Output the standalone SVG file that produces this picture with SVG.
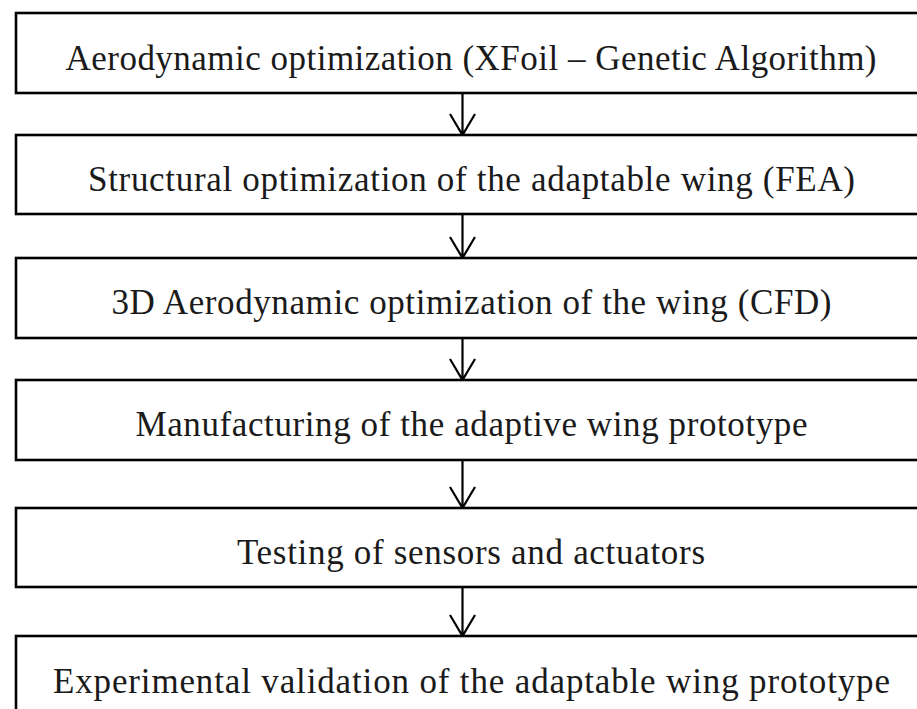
<svg xmlns="http://www.w3.org/2000/svg" width="917" height="709" viewBox="0 0 917 709">
<style>
.box{fill:#fff;stroke:#000;stroke-width:2.6}
.t{font-family:"Liberation Serif","DejaVu Serif",serif;font-size:35px;fill:#1a1a1a;text-anchor:middle}
.c{stroke:#000;stroke-width:2.2;fill:none}
</style>
<rect width="917" height="709" fill="#fff"/>
<g id="connectors">
<path class="c" d="M462.5 93V135M450 114L462.5 135L475 114"/>
<path class="c" d="M462.5 214V258M450 237L462.5 258L475 237"/>
<path class="c" d="M462.5 338V380M450 359L462.5 380L475 359"/>
<path class="c" d="M462.5 460V508M450 487L462.5 508L475 487"/>
<path class="c" d="M462.5 587V636M450 615L462.5 636L475 615"/>
</g>
<g id="n1"><rect class="box" x="16" y="13" width="920" height="80"/><text class="t" x="471" y="70" textLength="811" lengthAdjust="spacing">Aerodynamic optimization (XFoil – Genetic Algorithm)</text></g>
<g id="n2"><rect class="box" x="16" y="135" width="920" height="79"/><text class="t" x="471.5" y="191" textLength="767" lengthAdjust="spacing">Structural optimization of the adaptable wing (FEA)</text></g>
<g id="n3"><rect class="box" x="16" y="258" width="920" height="80"/><text class="t" x="471.5" y="314" textLength="720" lengthAdjust="spacing">3D Aerodynamic optimization of the wing (CFD)</text></g>
<g id="n4"><rect class="box" x="16" y="380" width="920" height="80"/><text class="t" x="471.5" y="436" textLength="672" lengthAdjust="spacing">Manufacturing of the adaptive wing prototype</text></g>
<g id="n5"><rect class="box" x="16" y="508" width="920" height="79"/><text class="t" x="471" y="564" textLength="468" lengthAdjust="spacing">Testing of sensors and actuators</text></g>
<g id="n6"><rect class="box" x="16" y="636" width="920" height="90"/><text class="t" x="471.5" y="693" textLength="837" lengthAdjust="spacing">Experimental validation of the adaptable wing prototype</text></g>
</svg>
